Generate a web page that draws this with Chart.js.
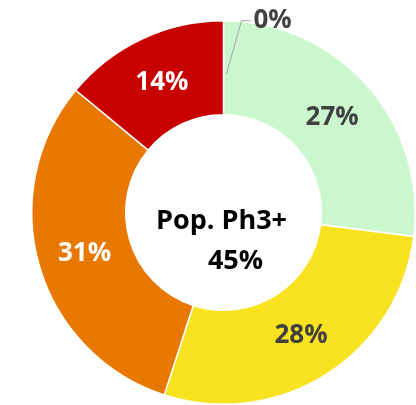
<!DOCTYPE html>
<html>
<head>
<meta charset="utf-8">
<script src="https://cdn.jsdelivr.net/npm/chart.js@4"></script>
<style>
  body { margin: 0; background: #fff; }
</style>
</head>
<body>
<canvas id="phases" width="416" height="405"></canvas>
<script>
/* Données du graphique */
var phaseLabels = ['Phase 1', 'Phase 2', 'Phase 3', 'Phase 4', 'Phase 5'];
var phaseValues = [27, 28, 31, 14, 0];
var phaseColors = ['#CBF7CE', '#F9E21F', '#E87800', '#C80000', '#640000'];
var valueColors = ['#404040', '#404040', '#ffffff', '#ffffff', '#404040'];
var centerLines = ['Pop. Ph3+', '45%'];

var labelFont = 'bold 26px "Open Sans"';
var centerFont = 'bold 27px "Open Sans"';

/* Étiquettes sur les segments + texte central */
var sliceLabels = {
    id: 'sliceLabels',
    afterDatasetsDraw: function (chart) {
        var ctx = chart.ctx;
        var meta = chart.getDatasetMeta(0);
        ctx.save();
        ctx.font = labelFont;
        ctx.textAlign = 'center';
        ctx.textBaseline = 'middle';
        meta.data.forEach(function (arc, i) {
            var text = phaseValues[i] + '%';
            if (phaseValues[i] === 0) {
                // étiquette déportée avec ligne de rappel
                var p = arc.getProps(['x', 'y', 'innerRadius', 'outerRadius'], true);
                var mid = (p.innerRadius + p.outerRadius) / 2;
                var x0 = p.x + 3, y0 = p.y - mid + 6;
                var x1 = p.x + 18, y1 = p.y - p.outerRadius;
                ctx.strokeStyle = '#A6A6A6';
                ctx.lineWidth = 1;
                ctx.beginPath();
                ctx.moveTo(x0, y0);
                ctx.lineTo(x1, y1);
                ctx.lineTo(x1 + 10, y1);
                ctx.stroke();
                ctx.fillStyle = valueColors[i];
                ctx.textAlign = 'left';
                ctx.fillText(text, x1 + 12, y1);
                ctx.textAlign = 'center';
                return;
            }
            var pos = arc.tooltipPosition();
            ctx.fillStyle = valueColors[i];
            ctx.fillText(text, pos.x, pos.y + 1);
        });
        var c = meta.data[0];
        ctx.font = centerFont;
        ctx.fillStyle = '#000000';
        ctx.fillText(centerLines[0], c.x - 2, c.y + 9);
        ctx.fillText(centerLines[1], c.x + 12, c.y + 49);
        ctx.restore();
    }
};

var chartPhases = new Chart(document.getElementById('phases'), {
    type: 'doughnut',
    data: {
        labels: phaseLabels,
        datasets: [
            {
                data: phaseValues,
                backgroundColor: phaseColors,
                borderColor: '#ffffff',
                borderWidth: 1.5
            }
        ]
    },
    options: {
        responsive: false,
        animation: false,
        cutout: '51%',
        layout: {
            padding: { left: 31, top: 20, right: 0, bottom: 0 }
        },
        plugins: {
            legend: { display: false },
            tooltip: { enabled: false }
        }
    },
    plugins: [sliceLabels]
});
</script>
</body>
</html>
